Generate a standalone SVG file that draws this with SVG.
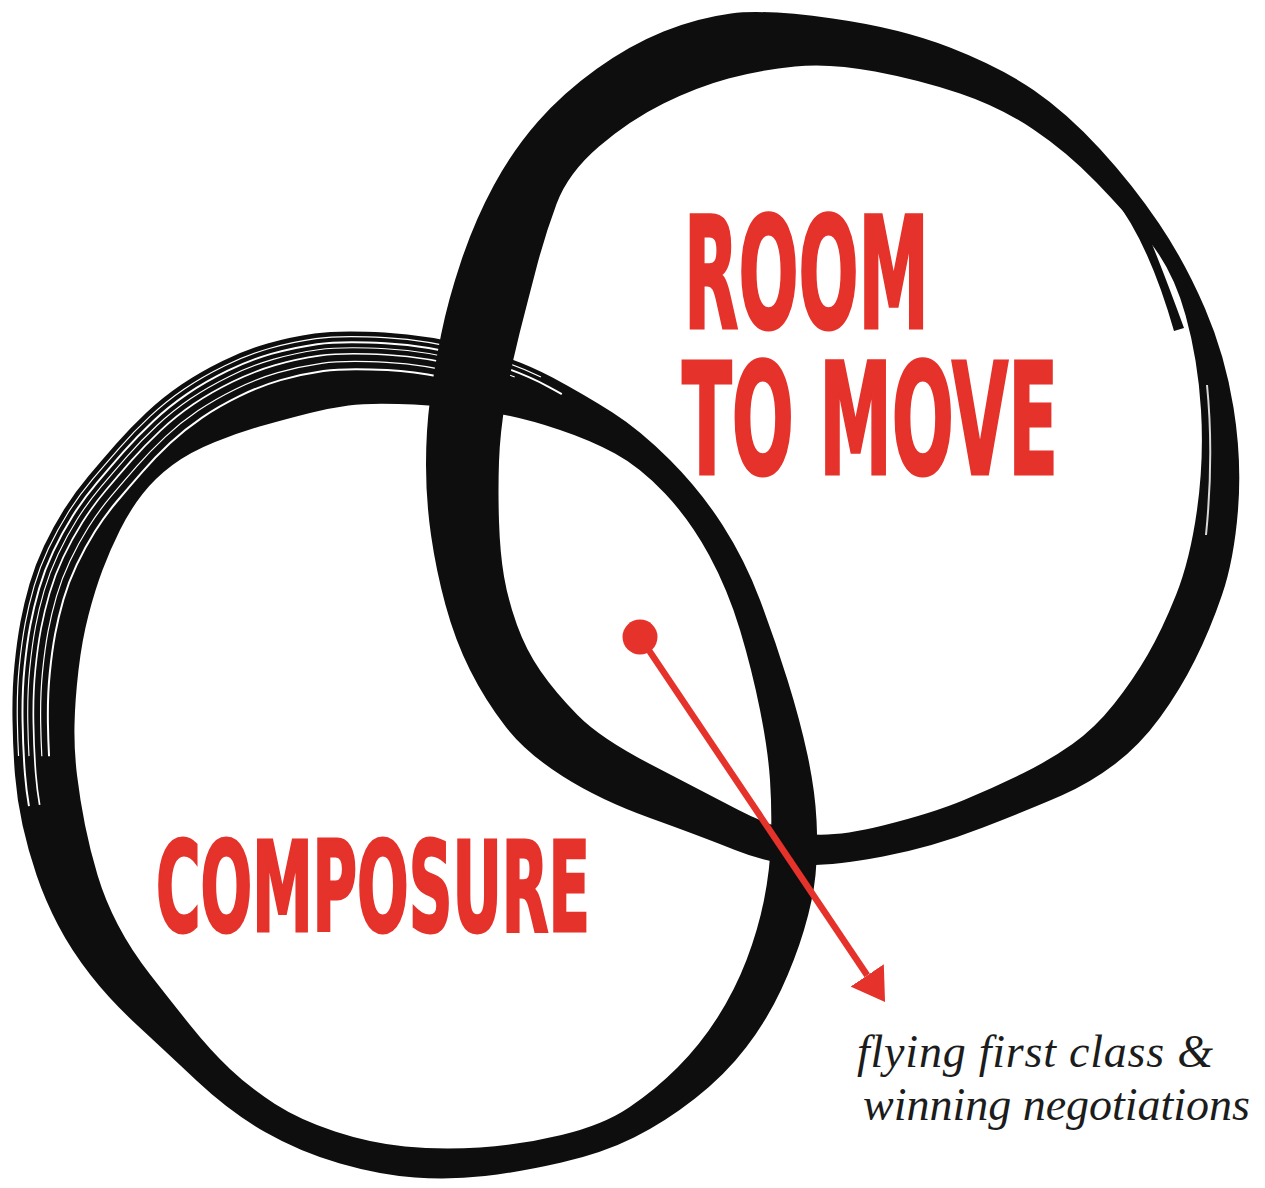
<svg xmlns="http://www.w3.org/2000/svg" xmlns:xlink="http://www.w3.org/1999/xlink" width="1265" height="1188" viewBox="0 0 1265 1188">
<style>
.ink{fill:#0e0e0e;fill-rule:evenodd}
.streak{fill:none;stroke:#fff}
.big{font-family:"Liberation Sans Narrow","DejaVu Sans Condensed","Liberation Sans",sans-serif;font-weight:700;fill:#e5322a;stroke:#e5322a;stroke-width:3;stroke-linejoin:miter}
.note{font-family:"Liberation Serif","Times New Roman",serif;font-style:italic;font-size:46px;fill:#1c1c1c}
.conn{stroke:#e5322a;stroke-width:6.5;fill:none}
</style>
<defs>
<path id="Lo" pathLength="100" d="M314.5,333.5 Q339,330 384.5,332.5 Q430,335 475,347.5 Q520,360 552.5,377.5 Q585,395 612.5,412.5 Q640,430 670,460 Q700,490 722.5,525 Q745,560 760,600 Q775,640 787.5,680 Q800,720 807.5,755 Q815,790 816.5,820 Q818,850 815.5,875 Q813,900 804,930 Q795,960 781,990 Q767,1020 746,1047.5 Q725,1075 695,1098.5 Q665,1122 634,1137.5 Q603,1153 561.5,1162.5 Q520,1172 485,1176 Q450,1180 415,1177.5 Q380,1175 340,1163.5 Q300,1152 265,1132 Q230,1112 197,1081 Q164,1050 137,1025 Q110,1000 90.5,975 Q71,950 58,925 Q45,900 36.5,875 Q28,850 22.5,825 Q17,800 15,775 Q13,750 12.5,720 Q12,690 14.5,665 Q17,640 20.5,621.5 Q24,603 29.5,584 Q35,565 44,546 Q53,527 64,509.5 Q75,492 88.5,476 Q102,460 116,444 Q130,428 146.5,412.5 Q163,397 181.5,384.5 Q200,372 222.5,361 Q245,350 267.5,343.5 Q290,337 314.5,333.5 Z"/>
<marker id="head" markerUnits="userSpaceOnUse" markerWidth="32" markerHeight="40" viewBox="0 0 32 40" refX="0" refY="20" orient="auto">
<path d="M0,0 L32,20 L0,40 Z" fill="#e5322a"/>
</marker>
</defs>
<rect width="1265" height="1188" fill="#fff"/>

<g id="composure">
<path class="ink" d="M314.5,333.5 Q339,330 384.5,332.5 Q430,335 475,347.5 Q520,360 552.5,377.5 Q585,395 612.5,412.5 Q640,430 670,460 Q700,490 722.5,525 Q745,560 760,600 Q775,640 787.5,680 Q800,720 807.5,755 Q815,790 816.5,820 Q818,850 815.5,875 Q813,900 804,930 Q795,960 781,990 Q767,1020 746,1047.5 Q725,1075 695,1098.5 Q665,1122 634,1137.5 Q603,1153 561.5,1162.5 Q520,1172 485,1176 Q450,1180 415,1177.5 Q380,1175 340,1163.5 Q300,1152 265,1132 Q230,1112 197,1081 Q164,1050 137,1025 Q110,1000 90.5,975 Q71,950 58,925 Q45,900 36.5,875 Q28,850 22.5,825 Q17,800 15,775 Q13,750 12.5,720 Q12,690 14.5,665 Q17,640 20.5,621.5 Q24,603 29.5,584 Q35,565 44,546 Q53,527 64,509.5 Q75,492 88.5,476 Q102,460 116,444 Q130,428 146.5,412.5 Q163,397 181.5,384.5 Q200,372 222.5,361 Q245,350 267.5,343.5 Q290,337 314.5,333.5 Z M348.5,405.5 Q367,403 398.5,404 Q430,405 455,407.5 Q480,410 505,415 Q530,420 560,430 Q590,440 615,453.5 Q640,467 665,493.5 Q690,520 709,555 Q728,590 740,630 Q752,670 760,710 Q768,750 770,780 Q772,810 771,840 Q770,870 764,900 Q758,930 746.5,960 Q735,990 717.5,1017.5 Q700,1045 677.5,1067.5 Q655,1090 629,1107.5 Q603,1125 561.5,1135 Q520,1145 480,1147.5 Q440,1150 405,1146.5 Q370,1143 335,1131.5 Q300,1120 275,1104 Q250,1088 230,1069 Q210,1050 190,1025 Q170,1000 150.5,975 Q131,950 118,925 Q105,900 97.5,875 Q90,850 85,825 Q80,800 77,775 Q74,750 74.5,725 Q75,700 78.5,670 Q82,640 88.5,615 Q95,590 102.5,570 Q110,550 120,530 Q130,510 142.5,494 Q155,478 172.5,465 Q190,452 215,442 Q240,432 265,425 Q290,418 310,413 Q330,408 348.5,405.5 Z"/>
<use href="#Lo" class="streak" transform="matrix(0.988,0,0,0.988,4.98,9.12)" stroke-width="1.2" stroke-dasharray="9 69 22"/>
<use href="#Lo" class="streak" transform="matrix(0.975,0,0,0.975,10.38,19)" stroke-width="2" stroke-dasharray="10 66 24"/>
<use href="#Lo" class="streak" transform="matrix(0.962,0,0,0.962,15.77,28.88)" stroke-width="1.2" stroke-dasharray="8 70 22"/>
<use href="#Lo" class="streak" transform="matrix(0.948,0,0,0.948,21.58,39.52)" stroke-width="1.8" stroke-dasharray="7 69 24"/>
<use href="#Lo" class="streak" transform="matrix(0.93,0,0,0.93,29.05,53.2)" stroke-width="1.3" stroke-dasharray="6 72 22"/>
<use href="#Lo" class="streak" transform="matrix(0.912,0,0,0.912,36.52,66.88)" stroke-width="2.2" stroke-dasharray="5 73 22"/>
<text class="big" x="156" y="930.5" font-size="125" textLength="434" lengthAdjust="spacingAndGlyphs">COMPOSURE</text>
</g>

<g id="room-to-move">
<path class="ink" d="M731,13.5 Q765,9 832.5,18.5 Q900,28 950,47.5 Q1000,67 1033.5,90 Q1067,113 1100,149 Q1133,185 1159,223.5 Q1185,262 1205,308.5 Q1225,355 1233.5,407.5 Q1242,460 1238,510 Q1234,560 1222,595 Q1210,630 1195,660 Q1180,690 1160,717.5 Q1140,745 1115,764 Q1090,783 1061.5,795.5 Q1033,808 983,827.5 Q933,847 883,856.5 Q833,866 801.5,865 Q770,864 735,850 Q700,836 650,818 Q600,800 563,776.5 Q526,753 505.5,726.5 Q485,700 470,670 Q455,640 445.5,605 Q436,570 431,535 Q426,500 426,465 Q426,430 430,400 Q434,370 441,335 Q448,300 461.5,260 Q475,220 494,185 Q513,150 538,121.5 Q563,93 596.5,69 Q630,45 663.5,31.5 Q697,18 731,13.5 Z M795,66.5 Q830,63 875,71.5 Q920,80 960,93.5 Q1000,107 1033.5,129.5 Q1067,152 1096,182 Q1125,212 1149,241 Q1173,270 1185.5,315 Q1198,360 1201,410 Q1204,460 1197,510 Q1190,560 1176,595 Q1162,630 1147.5,655 Q1133,680 1114,704 Q1095,728 1072.5,744 Q1050,760 1022.5,773.5 Q995,787 964,800 Q933,813 883,825.5 Q833,838 804,833.5 Q775,829 737.5,809.5 Q700,790 650,764 Q600,738 577.5,715 Q555,692 540.5,671 Q526,650 517,625 Q508,600 504,576.5 Q500,553 499,521.5 Q498,490 499,461.5 Q500,433 505.5,400 Q511,367 519.5,333.5 Q528,300 536.5,267.5 Q545,235 556.5,204 Q568,173 599,146.5 Q630,120 663.5,103.5 Q697,87 728.5,78.5 Q760,70 795,66.5 Z"/>
<path class="ink" d="M1112,196 Q1148,240 1174,331 L1184,328 Q1160,262 1140,215 Z"/>
<path d="M1207,385 Q1214,455 1206,535" fill="none" stroke="#d8d8d8" stroke-width="2"/>
<text class="big" x="684" y="327.5" font-size="155" textLength="245" lengthAdjust="spacingAndGlyphs">ROOM</text>
<text class="big" x="682" y="473.5" font-size="155" textLength="376" lengthAdjust="spacingAndGlyphs">TO MOVE</text>
</g>

<g id="outcome">
<text class="note" x="857" y="1067" textLength="356" lengthAdjust="spacing">flying first class &amp;</text>
<text class="note" x="863" y="1120" textLength="387" lengthAdjust="spacing">winning negotiations</text>
</g>

<g id="connectors">
<line class="conn" x1="640" y1="637" x2="867.2" y2="975.4" marker-end="url(#head)"/>
<circle cx="640" cy="637" r="17.5" fill="#e5322a"/>
</g>
</svg>
